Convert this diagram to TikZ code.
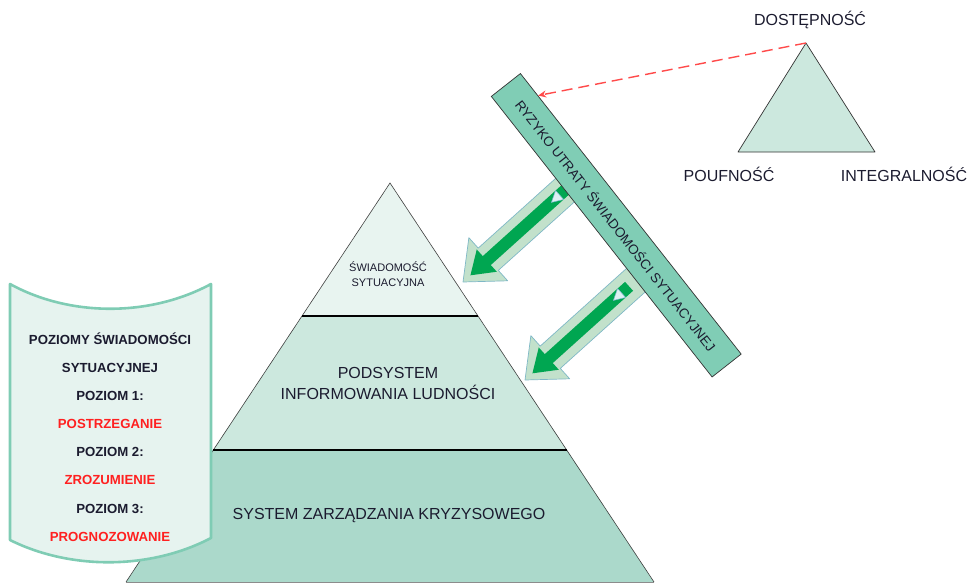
\documentclass[tikz,border=0pt]{standalone}
\usepackage{fontspec}
\setmainfont{Liberation Sans}
\usetikzlibrary{calc,arrows.meta}

\definecolor{tiertop}{HTML}{E8F4F0}
\definecolor{tiermid}{HTML}{CCE8DE}
\definecolor{tierbase}{HTML}{ABD9CB}
\definecolor{scrollfill}{HTML}{E6F3EF}
\definecolor{scrolldraw}{HTML}{7FCCB4}
\definecolor{barfill}{HTML}{80CDB5}
\definecolor{outerfill}{HTML}{C2E1CB}
\definecolor{outerdraw}{HTML}{7FB8C6}
\definecolor{innerfill}{HTML}{00A651}
\definecolor{notchfill}{HTML}{DDF0F3}
\definecolor{notchdraw}{HTML}{7FB8D0}
\definecolor{risk}{HTML}{FF4A4A}
\definecolor{ink}{HTML}{1B1B2F}
\definecolor{levelred}{HTML}{FF2020}

\tikzset{
  pyredge/.style={draw=black!75, line width=0.6pt},
  tierline/.style={draw=black, line width=1.2pt},
  label/.style={text=ink, inner sep=0pt, align=center},
  scrollbox/.style={fill=scrollfill, draw=scrolldraw, line width=2.6pt, line join=round},
  riskbar/.style={fill=barfill, draw=black!80, line width=0.7pt, minimum width=357pt,
    minimum height=37pt, inner sep=0pt, text=ink, font=\fontsize{13.5}{16}\selectfont},
  riskline/.style={draw=risk, line width=1.4pt, dash pattern=on 11pt off 6pt,
    -{Stealth[length=8pt,width=7pt]}},
  ciatri/.style={fill=tiermid, draw=black!80, line width=0.7pt, line join=round},
  riskarrow/.pic={
    \filldraw[fill=outerfill, draw=outerdraw, line width=0.7pt, line join=round]
      (0,0) -- (-34,29) -- (-34,15) -- (-155,15) -- (-155,-15) -- (-34,-15) -- (-34,-29) -- cycle;
    \fill[innerfill] (-10,0) -- (-32,15) -- (-32,6) -- (-140,6) -- (-140,-6) -- (-32,-6) -- (-32,-15) -- cycle;
    \filldraw[fill=notchfill, draw=notchdraw, line width=0.5pt]
      (-119,0) -- (-130,6) -- (-130,-6) -- cycle;
  }
}

\begin{document}
\begin{tikzpicture}[x=1pt, y=-1pt]
\useasboundingbox (0,0) rectangle (968,583);

% three-tier pyramid
\coordinate (apex) at (390,183);
\coordinate (t1l) at (302,316);
\coordinate (t1r) at (478,316);
\coordinate (t2l) at (213,450);
\coordinate (t2r) at (567,450);
\coordinate (t3l) at (126,582);
\coordinate (t3r) at (654,582);
\fill[tiertop] (apex) -- (t1r) -- (t1l) -- cycle;
\fill[tiermid] (t1l) -- (t1r) -- (t2r) -- (t2l) -- cycle;
\fill[tierbase] (t2l) -- (t2r) -- (t3r) -- (t3l) -- cycle;
\draw[pyredge] (t3l) -- (apex) -- (t3r);
\draw[pyredge, draw=black!45] (t3l) -- (t3r);
\draw[tierline] (t1l) -- (t1r);
\draw[tierline] (t2l) -- (t2r);

\node[label, font=\fontsize{11}{15}\selectfont] (sa) at (388,274) {ŚWIADOMOŚĆ\\SYTUACYJNA};
\node[label, font=\fontsize{16}{21}\selectfont] (pil) at (388,383) {PODSYSTEM\\INFORMOWANIA LUDNOŚCI};
\node[label, font=\fontsize{16}{20}\selectfont] (szk) at (389,516) {SYSTEM ZARZĄDZANIA KRYZYSOWEGO};

% arrows leaving the risk bar
\pic[rotate=222] (a1) at (463,282) {riskarrow};
\pic[rotate=222] (a2) at (525,380) {riskarrow};

% risk bar
\node[riskbar, rotate=-51.8] (bar) at (616.25,225.25) {RYZYKO UTRATY ŚWIADOMOŚCI SYTUACYJNEJ};

% CIA triangle
\coordinate (ciatop) at (806,43);
\coordinate (cialeft) at (738,152);
\coordinate (ciaright) at (875,152);
\draw[ciatri] (ciatop) -- (ciaright) -- (cialeft) -- cycle;
\node[label, font=\fontsize{16}{20}\selectfont] (dost) at (810,20) {DOSTĘPNOŚĆ};
\node[label, font=\fontsize{16}{20}\selectfont] (pouf) at (729,174) {POUFNOŚĆ};
\node[label, font=\fontsize{16}{20}\selectfont] (integ) at (904,174) {INTEGRALNOŚĆ};

\draw[riskline] (ciatop) -- ($(bar.north west)!0.08!(bar.north east)$);

% levels scroll
\draw[scrollbox] (10,284) .. controls (70,317) and (150,317) .. (211,284)
  -- (211,538) .. controls (150,570) and (70,570) .. (10,540) -- cycle;
\node[label, font=\bfseries\fontsize{13.2}{28.1}\selectfont] (levels) at (110,437)
  {POZIOMY ŚWIADOMOŚCI\\SYTUACYJNEJ\\POZIOM 1:\\\textcolor{levelred}{POSTRZEGANIE}\\
   POZIOM 2:\\\textcolor{levelred}{ZROZUMIENIE}\\POZIOM 3:\\\textcolor{levelred}{PROGNOZOWANIE}};
\end{tikzpicture}
\end{document}
